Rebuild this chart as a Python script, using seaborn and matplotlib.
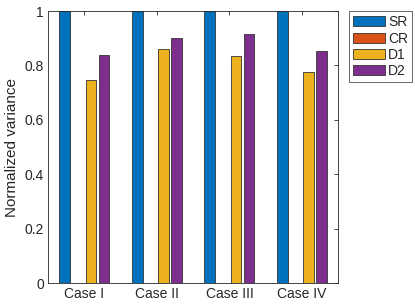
import matplotlib
matplotlib.use("Agg")
import matplotlib.pyplot as plt
import pandas as pd
import seaborn as sns

cases = ["Case I", "Case II", "Case III", "Case IV"]
methods = ["SR", "CR", "D1", "D2"]
sr = [1.0, 1.0, 1.0, 1.0]
cr = [0.0, 0.0, 0.0, 0.0]
d1 = [0.746, 0.859, 0.835, 0.776]
d2 = [0.837, 0.901, 0.917, 0.854]
colors = ["#0072BD", "#D95319", "#EDB120", "#7E2F8E"]

df = pd.DataFrame({
    "case": cases * 4,
    "method": [m for m in methods for _ in cases],
    "value": sr + cr + d1 + d2,
})

sns.set_style("white")
plt.rcParams["font.family"] = ["Liberation Sans", "DejaVu Sans"]

fig = plt.figure(figsize=(4.15, 3.07), dpi=100)
ax = fig.add_axes([0.116, 0.078, 0.699, 0.886])
sns.barplot(data=df, x="case", y="value", hue="method", palette=colors,
            saturation=1, width=0.72, gap=0.17, edgecolor="#333333",
            linewidth=0.6, ax=ax)

ax.set_xlim(-0.5, 3.5)
ax.set_ylim(0, 1)
ax.set_yticks([0, 0.2, 0.4, 0.6, 0.8, 1])
ax.set_yticklabels(["0", "0.2", "0.4", "0.6", "0.8", "1"])
ax.set_xlabel("")
ax.set_ylabel("Normalized variance", fontsize=11, color="#262626")
ax.tick_params(direction="in", length=3, width=0.6, top=True, right=True,
               labelsize=10, colors="#262626", pad=3)
for s in ax.spines.values():
    s.set_linewidth(0.6)
    s.set_color("#262626")

leg = ax.legend(loc="upper left", bbox_to_anchor=(1.038, 1.0), borderaxespad=0,
                frameon=True, fontsize=10, handlelength=2.3, handleheight=0.72,
                handletextpad=0.2, labelspacing=0.17, borderpad=0.3,
                fancybox=False, edgecolor="#262626")
leg.get_frame().set_linewidth(0.6)

fig.savefig("out.png", dpi=100)
